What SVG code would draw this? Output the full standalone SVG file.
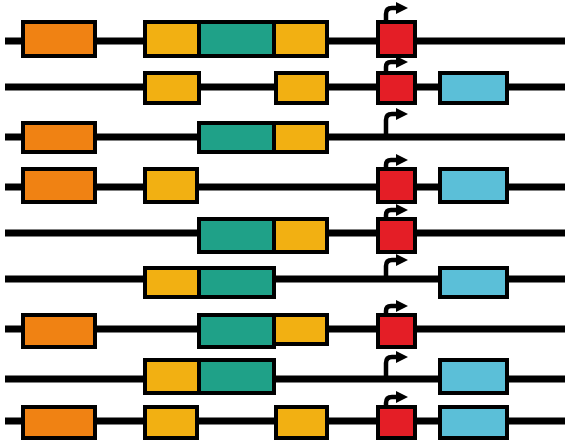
<svg xmlns="http://www.w3.org/2000/svg" width="572" height="442" viewBox="0 0 572 442">
<style>
.ln{stroke:#000;stroke-width:7;fill:none}
.b{stroke:#000;stroke-width:4}
.o{fill:#F08213}.y{fill:#F2B012}.t{fill:#1FA188}.r{fill:#E41E26}.c{fill:#5BBFD8}
.pr{stroke:#000;stroke-width:4.5;fill:none}
.ah{fill:#000}
</style>
<rect width="572" height="442" fill="#fff"/>
<g id="connectors">
<line class="ln" x1="5" y1="41" x2="565" y2="41"/>
<line class="ln" x1="5" y1="87" x2="565" y2="87"/>
<line class="ln" x1="5" y1="137" x2="565" y2="137"/>
<line class="ln" x1="5" y1="187" x2="565" y2="187"/>
<line class="ln" x1="5" y1="233" x2="565" y2="233"/>
<line class="ln" x1="5" y1="279" x2="565" y2="279"/>
<line class="ln" x1="5" y1="329" x2="565" y2="329"/>
<line class="ln" x1="5" y1="379" x2="565" y2="379"/>
<line class="ln" x1="5" y1="421" x2="565" y2="421"/>
</g>
<g id="row1">
<rect class="b o" x="23" y="22" width="72" height="34"/>
<rect class="b y" x="145" y="22" width="54" height="34"/>
<rect class="b t" x="199" y="22" width="75" height="34"/>
<rect class="b y" x="274" y="22" width="53" height="34"/>
<rect class="b r" x="378" y="22" width="37" height="34"/>
<path class="pr" d="M386,21 V14 Q386,8 392,8 H397"/>
<polygon class="ah" points="396,2 408,8 396,14"/>
</g>
<g id="row2">
<rect class="b y" x="145" y="73" width="54" height="30"/>
<rect class="b y" x="276" y="73" width="51" height="30"/>
<rect class="b r" x="378" y="73" width="37" height="30"/>
<rect class="b c" x="440" y="73" width="67" height="30"/>
<path class="pr" d="M386,72 V67 Q386,62 391,62 H397"/>
<polygon class="ah" points="396,56 408,62 396,68"/>
</g>
<g id="row3">
<rect class="b o" x="23" y="123" width="72" height="29"/>
<rect class="b t" x="199" y="123" width="75" height="29"/>
<rect class="b y" x="274" y="123" width="53" height="29"/>
<path class="pr" d="M386,135 V120 Q386,114 392,114 H397"/>
<polygon class="ah" points="396,108 408,114 396,120"/>
</g>
<g id="row4">
<rect class="b o" x="23" y="169" width="72" height="33"/>
<rect class="b y" x="145" y="169" width="52" height="33"/>
<rect class="b r" x="378" y="169" width="37" height="33"/>
<rect class="b c" x="440" y="169" width="67" height="33"/>
<path class="pr" d="M386,168 V165 Q386,160 391,160 H397"/>
<polygon class="ah" points="396,154 408,160 396,166"/>
</g>
<g id="row5">
<rect class="b t" x="199" y="219" width="75" height="33"/>
<rect class="b y" x="274" y="219" width="53" height="33"/>
<rect class="b r" x="378" y="219" width="37" height="33"/>
<path class="pr" d="M386,218 V215 Q386,210 391,210 H397"/>
<polygon class="ah" points="396,204 408,210 396,216"/>
</g>
<g id="row6">
<rect class="b y" x="145" y="268" width="54" height="29"/>
<rect class="b t" x="199" y="268" width="75" height="29"/>
<rect class="b c" x="440" y="268" width="67" height="29"/>
<path class="pr" d="M386,277 V266 Q386,260 392,260 H397"/>
<polygon class="ah" points="396,254 408,260 396,266"/>
</g>
<g id="row7">
<rect class="b o" x="23" y="315" width="72" height="32"/>
<rect class="b t" x="199" y="315" width="75" height="32"/>
<rect class="b y" x="274" y="315" width="53" height="29"/>
<rect class="b r" x="378" y="315" width="37" height="32"/>
<path class="pr" d="M386,314 V311 Q386,306 391,306 H397"/>
<polygon class="ah" points="396,300 408,306 396,312"/>
</g>
<g id="row8">
<rect class="b y" x="145" y="360" width="54" height="33"/>
<rect class="b t" x="199" y="360" width="75" height="33"/>
<rect class="b c" x="440" y="360" width="67" height="33"/>
<path class="pr" d="M386,377 V363 Q386,357 392,357 H397"/>
<polygon class="ah" points="396,351 408,357 396,363"/>
</g>
<g id="row9">
<rect class="b o" x="23" y="407" width="72" height="31"/>
<rect class="b y" x="145" y="407" width="52" height="31"/>
<rect class="b y" x="276" y="407" width="51" height="31"/>
<rect class="b r" x="378" y="407" width="37" height="31"/>
<rect class="b c" x="440" y="407" width="67" height="31"/>
<path class="pr" d="M386,406 V403 Q386,397 392,397 H397"/>
<polygon class="ah" points="396,391 408,397 396,403"/>
</g>
</svg>
